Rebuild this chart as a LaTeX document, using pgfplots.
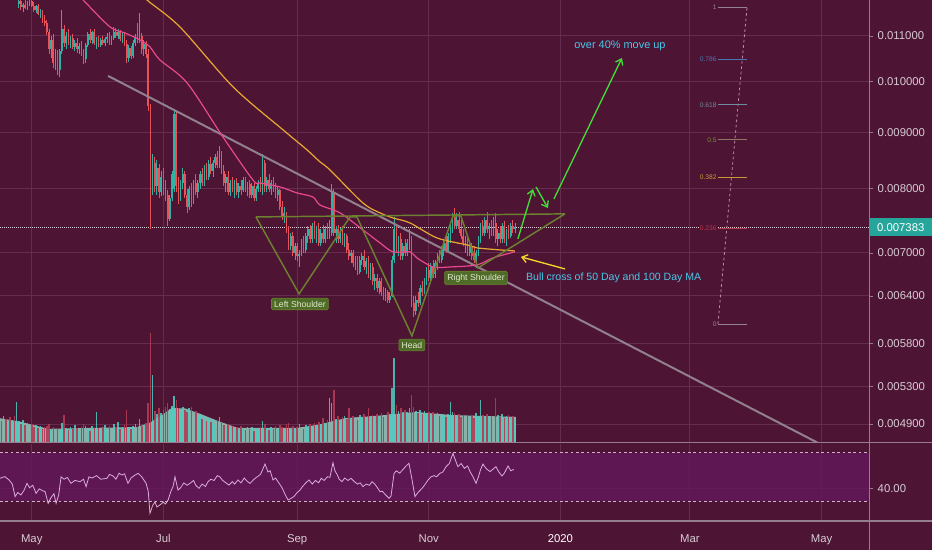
\documentclass[border=0pt]{standalone}
\usepackage{pgfplots}
\pgfplotsset{compat=1.18}
\usepackage{pgfplotstable}
\usepackage{fontspec}
\setmainfont{Liberation Sans}
\setsansfont{Liberation Sans}
\usetikzlibrary{arrows.meta}

\definecolor{bg}{RGB}{78,20,52}
\definecolor{gridc}{RGB}{100,44,78}
\definecolor{sepc}{RGB}{150,125,142}
\definecolor{txt}{RGB}{214,204,212}
\definecolor{upc}{RGB}{46,178,163}
\definecolor{dnc}{RGB}{232,82,88}
\definecolor{vup}{RGB}{78,205,192}
\definecolor{vdn}{RGB}{178,60,85}
\definecolor{vma}{RGB}{138,176,170}
\definecolor{ma50}{RGB}{232,72,142}
\definecolor{ma100}{RGB}{232,168,48}
\definecolor{trend}{RGB}{145,128,142}
\definecolor{hs}{RGB}{108,128,48}
\definecolor{hsbox}{RGB}{78,108,40}
\definecolor{hstxt}{RGB}{226,234,206}
\definecolor{arrg}{RGB}{64,222,52}
\definecolor{arry}{RGB}{246,214,40}
\definecolor{note}{RGB}{72,200,232}
\definecolor{pricebox}{RGB}{38,166,154}
\definecolor{band}{RGB}{100,24,92}
\definecolor{rsic}{RGB}{218,172,218}
\definecolor{dashc}{RGB}{205,180,200}
\definecolor{fgrey}{RGB}{150,130,145}
\definecolor{fblue}{RGB}{70,120,175}
\definecolor{fslate}{RGB}{110,140,160}
\definecolor{fgreen}{RGB}{110,150,60}
\definecolor{fbrown}{RGB}{140,120,100}
\definecolor{forange}{RGB}{200,155,50}
\definecolor{fred}{RGB}{185,55,75}
\definecolor{fdash}{RGB}{185,140,165}

\def\tfont{\fontsize{8.5}{10}\selectfont}

% daily candles: day (0 = 1 May 2019), open, high, low, close (price x 1e6), volume
\pgfplotstableread{
d o h l c v
-14 12250 12400 12100 12150 5.0
-13 12150 12350 12050 12300 6.2
-12 12300 12380 12080 12120 5.4
-11 12120 12250 12000 12200 4.8
-10 12200 12300 12020 12050 5.9
-9 12050 12200 11980 12150 5.1
-8 12150 12250 11950 12000 6.0
-7 12000 12100 11930 12060 9.3
-6 11760 11900 11650 11820 5.0
-5 11820 11880 11620 11680 4.4
-4 11680 11790 11560 11740 5.2
-3 11740 11850 11640 11660 4.1
-2 11660 11830 11600 11790 4.6
-1 11790 11880 11700 11840 3.9
0 11840 11900 11690 11720 4.3
1 11720 11800 11560 11600 3.6
2 11600 11740 11540 11700 4.0
3 11700 11760 11480 11520 3.4
4 11520 11640 11420 11580 3.8
5 11580 11620 11300 11350 3.2
6 11350 11480 11240 11300 3.5
7 11300 11380 11020 11080 3.9
8 11080 11150 10600 10700 4.4
9 10700 11000 10500 10900 3.0
10 10900 11050 10300 10400 3.6
11 10400 10700 10250 10600 2.8
12 10600 10680 10150 10250 3.3
13 10250 10700 10100 10650 3.0
14 10650 11600 10600 11150 4.5
15 11150 11250 10750 10850 6.3
16 10850 11100 10700 11000 3.4
17 11000 11150 10800 10880 2.9
18 10880 11000 10720 10950 3.5
19 10950 11050 10700 10760 3.1
20 10760 10900 10650 10840 4.0
21 10840 10950 10620 10700 3.3
22 10700 10850 10600 10780 2.7
23 10780 10880 10560 10620 3.6
24 10620 10700 10380 10480 4.2
25 10480 10850 10400 10800 3.8
26 10800 11100 10750 11050 3.2
27 11050 11150 10850 10900 2.8
28 10900 11120 10820 11080 3.9
29 11080 11150 10800 10850 3.3
30 10850 10980 10700 10920 7.0
31 10920 11000 10760 10800 3.4
32 10800 10950 10750 10900 2.9
33 10900 11000 10800 10850 3.6
34 10850 10970 10780 10930 4.1
35 10930 11060 10850 10980 3.2
36 10980 11100 10800 10860 3.8
37 10860 11000 10800 10960 3.0
38 10960 11200 10900 11100 4.4
39 11100 11180 10950 11000 3.5
40 11000 11150 10940 11080 4.8
41 11080 11130 10880 10920 3.1
42 10920 11060 10850 11020 3.7
43 11020 11080 10780 10820 4.0
44 10820 10900 10400 10500 7.4
45 10500 10800 10420 10720 3.6
46 10720 10780 10480 10560 3.2
47 10560 10900 10500 10850 3.9
48 10850 11050 10780 10980 4.3
49 10980 11300 10850 10900 3.5
50 10900 11550 10850 11000 5.5
51 11000 11060 10600 10700 3.8
52 10700 10900 10550 10820 4.1
53 10820 10880 10500 10600 4.6
54 10600 10700 9400 9500 9.0
55 9500 9550 7350 8000 24.8
56 8000 8600 7900 8450 15.3
57 8450 8550 7950 8050 7.2
58 8050 8500 7900 8350 6.5
59 8350 8420 7850 7950 8.0
60 7950 8300 7880 8200 6.8
61 8200 8350 7900 8000 7.5
62 8000 8150 7800 7900 8.2
63 7900 7980 7400 7520 9.0
64 7520 7900 7480 7850 7.6
65 7850 8300 7800 8250 8.4
66 8000 9450 7950 9350 10.5
67 9350 9400 7950 8050 9.6
68 8050 8200 7750 7850 7.8
69 7850 8150 7800 8100 7.0
70 8100 8350 8000 8250 8.2
71 8250 8300 7850 7900 7.4
72 7900 8000 7600 7700 6.9
73 7700 8050 7650 8000 7.8
74 8000 8100 7700 7800 8.1
75 7800 8150 7750 8100 6.6
76 8100 8250 7900 7950 7.2
77 7950 8150 7850 8100 6.0
78 8100 8300 8000 8250 6.5
79 8250 8350 8050 8100 5.4
80 8100 8400 8050 8350 6.2
81 8350 8450 8150 8200 5.0
82 8200 8500 8150 8420 5.7
83 8420 8550 8250 8300 4.8
84 8300 8500 8200 8450 5.4
85 8450 8600 8350 8550 4.4
86 8550 8650 8350 8400 5.0
87 8400 8750 8350 8600 5.8
88 8600 8650 8250 8300 4.6
89 8300 8400 8050 8100 4.0
90 8100 8250 7950 8200 3.6
91 8200 8300 7900 7950 4.2
92 7950 8150 7880 8100 3.4
93 8100 8200 7950 8000 3.9
94 8000 8150 7850 8100 3.1
95 8100 8180 7900 7950 3.6
96 7950 8100 7850 8050 3.0
97 8050 8150 7900 7980 3.8
98 7980 8200 7950 8150 3.3
99 8150 8200 7950 8000 2.9
100 8000 8120 7880 8080 3.5
101 8080 8150 7850 7900 3.2
102 7900 8100 7850 8050 3.7
103 8050 8100 7800 7850 2.8
104 7850 8050 7800 8000 3.4
105 8000 8150 7950 8100 3.0
106 8100 8200 7950 8000 3.6
107 7950 8600 7900 8450 5.0
108 8450 8500 7950 8050 4.2
109 8050 8200 7950 8150 3.3
110 8150 8250 7950 8000 2.9
111 8000 8150 7900 8100 3.5
112 8100 8200 7950 8000 3.1
113 8000 8100 7850 7900 3.8
114 7900 8050 7800 7980 3.2
115 7980 8000 7650 7700 4.0
116 7700 7800 7500 7550 3.6
117 7550 7700 7450 7600 3.0
118 7600 7620 7300 7350 4.2
119 7350 7400 7050 7100 4.6
120 7100 7300 7050 7250 3.4
121 7250 7320 6950 7000 3.9
122 7000 7150 6900 7100 3.3
123 7100 7150 6880 6950 3.6
124 6950 7050 6800 6980 4.2
125 6980 7200 6950 7150 3.7
126 7150 7250 7000 7050 3.2
127 7050 7300 7000 7250 4.0
128 7250 7400 7150 7350 3.6
129 7350 7420 7150 7200 4.4
130 7200 7450 7150 7400 3.9
131 7400 7480 7200 7250 4.5
132 7250 7400 7150 7350 4.0
133 7350 7450 7100 7150 4.8
134 7150 7350 7100 7300 4.2
135 7300 7420 7150 7200 5.6
136 7200 7400 7150 7350 4.6
137 7350 7450 7200 7250 5.2
138 7250 7500 7200 7450 10.2
139 7300 8080 7250 7950 9.0
140 7950 8000 7250 7300 12.0
141 7300 7400 7150 7350 5.4
142 7350 7420 7150 7200 6.0
143 7200 7380 7150 7320 5.1
144 7320 7400 7120 7150 5.8
145 7150 7300 7080 7250 6.2
146 7250 7280 7000 7050 5.5
147 7050 7150 6900 6950 7.9
148 6950 7050 6850 7000 5.7
149 7000 7050 6800 6850 6.0
150 6850 6950 6750 6900 5.9
151 6900 6950 6680 6720 5.2
152 6720 6950 6700 6900 6.4
153 6900 7000 6820 6950 5.8
154 6950 7040 6750 6800 6.6
155 6800 6920 6700 6880 5.5
156 6880 6950 6650 6700 7.9
157 6700 6850 6620 6800 6.0
158 6800 6850 6550 6600 6.3
159 6600 6700 6480 6650 5.6
160 6650 6700 6450 6500 6.5
161 6500 6650 6420 6600 6.1
162 6600 6650 6400 6450 6.8
163 6450 6520 6350 6400 5.9
164 6400 6500 6330 6450 6.4
165 6450 6480 6300 6350 7.0
166 6350 6450 6310 6400 6.6
167 6400 6950 6380 6900 12.4
168 6900 7550 6850 7350 19.2
169 7350 7400 7000 7100 8.5
170 7100 7250 6950 7200 7.2
171 7200 7300 6900 6950 7.8
172 6950 7150 6900 7100 6.9
173 7100 7200 6950 7000 7.5
174 7000 7200 6950 7150 7.0
175 7150 7350 7050 7200 7.8
176 7200 7250 6250 6300 10.8
177 6300 6400 6130 6200 8.2
178 6200 6400 6150 6350 7.3
179 6350 6450 6250 6300 6.8
180 6300 6550 6280 6500 7.5
181 6500 6600 6400 6450 6.6
182 6450 6650 6420 6600 7.2
183 6600 6800 6550 6750 6.5
184 6750 6850 6600 6650 7.0
185 6650 6850 6600 6800 6.4
186 6800 6900 6650 6700 6.9
187 6700 6900 6650 6850 6.2
188 6850 7000 6750 6950 6.7
189 6950 7050 6850 6900 6.0
190 6900 7100 6850 7050 6.6
191 7050 7200 6950 7150 6.2
192 7150 7250 7000 7050 5.8
193 7050 7300 7000 7250 6.5
194 7250 7450 7150 7400 9.3
195 7400 7600 7300 7550 7.0
196 7550 7680 7350 7400 6.8
197 7400 7600 7350 7500 6.2
198 7500 7620 7300 7350 6.6
199 7350 7500 7200 7250 5.9
200 7250 7350 7100 7150 6.3
201 7150 7250 7000 7200 5.7
202 7200 7250 6950 7000 6.4
203 7000 7150 6950 7100 5.8
204 7100 7150 6900 6950 6.2
205 6950 7100 6850 6900 5.6
206 6900 7050 6780 7000 6.8
207 7000 7250 6950 7200 6.1
208 7200 7450 7150 7400 9.7
209 7400 7500 7250 7300 6.4
210 7300 7550 7250 7500 6.0
211 7500 7620 7300 7350 6.6
212 7350 7450 7200 7400 5.8
213 7400 7500 7250 7300 6.2
214 7300 7550 7250 7450 5.6
215 7450 7600 7150 7200 10.2
216 7200 7350 7100 7300 6.3
217 7300 7400 7150 7200 5.9
218 7200 7450 7150 7400 6.5
219 7400 7480 7150 7200 5.7
220 7200 7350 7100 7300 6.0
221 7300 7420 7200 7250 6.4
222 7250 7450 7220 7400 5.8
223 7400 7500 7300 7350 6.1
224 7350 7450 7300 7383 5.5
}\candles

\pgfplotstableread{
d r
-14.7 48.8
-12.5 50.2
-10.5 47.4
-9 44
-7.7 33.6
-6.5 37
-5.0 35
-3.5 39
-2.2 44.6
-1 41
0.5 43
2.0 36.3
3.5 40
5 38.5
6.2 37.7
7.6 28
9 33
10.3 36
11.3 28
12.5 35
13.6 50
15 48
16.5 49.5
18.2 44.6
20 47
22.4 46
24 48
25.2 41.9
26.5 50
28 49
30 51
32 48
34.9 48.8
36 52
37.7 50.7
39 48
40.5 53
41.8 51.5
43 52.5
44.6 44.6
46 49
47.5 51
49.3 52.9
51 50
53.0 44.6
54 38
54.8 19.8
56 26
57.1 29.4
58 25
59.4 26.7
61 29
62 27.5
63.2 30.8
64.5 38
65.5 42
66.4 50
67.8 39
69 41
70.5 45
72 43
73.3 44.6
75 47
76 43
77.5 40.5
79 44
80.5 42
81.7 46
83 48
84.5 47
86 51
87.2 50
88.5 47
90 45
91.4 43.2
93 46
94 44
95.6 47.4
97 45
98.5 49
100 46
101.2 44.6
103 48
104.5 50
106 52
107 56
108.1 60.6
109.5 54
110.5 55
111.8 47.4
113 49
114.5 45
116 41
117.5 35
118.8 30.8
120 32
121.5 33.6
123 37
124.3 39
125.5 42
127 45
128.5 47.4
130 44
131.5 47
133 45
134.1 48.8
135.5 47
137 50
138.2 49.6
139.6 61.7
140.5 55
141.5 52
142.5 48
143.8 46
145 49
146.5 47
148.0 48.8
149.5 46
151 44
152.2 45
153.5 41.9
155 44
156.5 43
157.7 46
159 44
160.2 41
161.4 37.7
162.5 38
164 35
165.6 32.2
166.5 34
167.9 52.9
169 55
170.5 53
172.5 57
173.5 59
174.8 61.2
176 50
177.6 33.6
179 37
180.9 40.5
182 43
183.5 47
185.0 50
186.5 51
187.5 50
189.2 52.9
190.5 54
192.0 58.4
193.5 61
194.5 66
195.2 69.4
196.3 64
197.5 58.4
199 61
200.5 57
202 59
203.1 54.3
204.5 50
205.9 44.6
207 50
208 56
209.1 60.6
210.5 57
212.4 54.3
213.5 56
215.1 58.4
216.5 54
217.9 50.7
219 53
220.7 59
222 55
223.5 56.2
}\rsi

\pgfplotsset{
  candle/.style 2 args={draw=none, mark=none, forget plot,
    error bars/.cd, y dir=plus, y explicit, error mark=none,
    error bar style={draw=#1, line width=#2}},
}

\begin{document}
\begin{tikzpicture}
\useasboundingbox (0,0) rectangle (699pt,412.5pt);
\fill[bg] (0,0) rectangle (699pt,412.5pt);

% price panel
\begin{axis}[
  at={(0pt,80.25pt)}, anchor=south west,
  scale only axis, width=651.75pt, height=332.25pt,
  xmin=-14.7, xmax=388,
  ymode=log, ymin=4711, ymax=11857,
  axis line style={draw=none},
  xtick={0,61,123,184,245,305,366}, xticklabels={},
  xtick style={draw=none},
  ytick={4900,5300,5800,6400,7000,8000,9000,10000,11000},
  yticklabels={0.004900,0.005300,0.005800,0.006400,0.007000,0.008000,0.009000,0.010000,0.011000},
  ytick pos=right, yticklabel pos=right,
  yminorticks=false,
  ytick style={sepc, line width=0.6pt}, major tick length=3pt, tick align=outside,
  yticklabel style={font=\tfont, text=txt},
  grid=major, grid style={gridc, line width=0.7pt},
]
% last price line
\draw[txt, densely dotted, line width=0.5pt] (axis cs:-14.7,7383) -- (axis cs:388,7383);
\coordinate (cur) at (axis cs:388,7383);

% candles: wicks and bodies
\addplot[candle={upc}{0.7pt}]
  table[x=d, y expr={\thisrow{c}>=\thisrow{o} ? \thisrow{l} : nan}, y error plus expr={\thisrow{h}-\thisrow{l}}] {\candles};
\addplot[candle={dnc}{0.7pt}]
  table[x=d, y expr={\thisrow{c}<\thisrow{o} ? \thisrow{l} : nan}, y error plus expr={\thisrow{h}-\thisrow{l}}] {\candles};
\addplot[candle={upc}{1.25pt}]
  table[x=d, y expr={\thisrow{c}>=\thisrow{o} ? \thisrow{o} : nan}, y error plus expr={abs(\thisrow{c}-\thisrow{o})}] {\candles};
\addplot[candle={dnc}{1.25pt}]
  table[x=d, y expr={\thisrow{c}<\thisrow{o} ? \thisrow{c} : nan}, y error plus expr={abs(\thisrow{c}-\thisrow{o})}] {\candles};

% descending trend line
\addplot[trend, line width=1.5pt] coordinates {(35.4,10121) (364.4,4711)};

% 50 day MA
\addplot[ma50, line width=0.9pt, smooth] coordinates {
(20.1,12060) (23.8,11857) (36.3,11208) (43.2,11069) (50.2,10909) (54.8,10751) (59.4,10464)
(72.0,9975) (88.6,8913) (102.5,8149) (105.8,8099) (115.1,8031) (122.9,7932) (130.3,7866)
(133.6,7736) (142.9,7609) (153.5,7343) (161.4,7148) (167.4,7015) (175.3,7015) (178.5,6927)
(186.0,6798) (193.8,6798) (206.3,6827) (213.7,6927) (223.9,7015)};

% 100 day MA
\addplot[ma100, line width=0.9pt, smooth] coordinates {
(50.2,12106) (53.4,11857) (68.7,11208) (93.3,9892) (116.5,9044) (127.6,8675) (133.6,8461)
(138.2,8321) (153.5,7768) (161.4,7609) (167.4,7530) (175.3,7451) (187.8,7222) (201.7,7118)
(206.3,7074) (217.0,7044) (223.9,7029)};

% inverse head and shoulders
\addplot[hs, line width=1.1pt] coordinates {(103.9,7545) (247.1,7593)};
\addplot[hs, line width=1.1pt] coordinates {
(103.9,7545) (123.9,6427) (147.5,7545) (150.7,7545) (176.2,5888) (195.2,7561)
(198.9,7561) (206.8,6784) (247.1,7593)};

\node[fill=hsbox, draw=hs, rounded corners=1pt, text=hstxt, inner xsep=2pt, inner ysep=2pt,
  font=\fontsize{6.5}{7}\selectfont] at (axis cs:124.3,6294) {Left Shoulder};
\node[fill=hsbox, draw=hs, rounded corners=1pt, text=hstxt, inner xsep=2pt, inner ysep=2pt,
  font=\fontsize{6.5}{7}\selectfont] at (axis cs:176.2,5778) {Head};
\node[fill=hsbox, draw=hs, rounded corners=1pt, text=hstxt, inner xsep=2pt, inner ysep=2pt,
  font=\fontsize{6.5}{7}\selectfont] at (axis cs:205.9,6644) {Right Shoulder};

% projected move
\draw[arrg, line width=1pt, -{Straight Barb[length=4pt,width=6pt]}] (axis cs:225.3,7207) -- (axis cs:232.3,7997);
\draw[arrg, line width=1pt, -{Straight Barb[length=4pt,width=6pt]}] (axis cs:233.7,8031) -- (axis cs:239.2,7687);
\draw[arrg, line width=1pt, -{Straight Barb[length=4pt,width=6pt]}] (axis cs:242.0,7833) -- (axis cs:273.5,10507);
\node[note, font=\fontsize{8.2}{9}\selectfont] at (axis cs:272.6,10773) {over 40\% move up};

\draw[arry, line width=1pt, {Straight Barb[length=4pt,width=6pt]}-] (axis cs:226.7,6942) -- (axis cs:247.1,6770);
\node[note, anchor=west, inner sep=0pt, font=\fontsize{7.9}{9}\selectfont] at (axis cs:229.0,6644) {Bull cross of 50 Day and 100 Day MA};

% fibonacci retracement
\draw[fdash, dash pattern=on 2pt off 2pt, line width=0.6pt] (axis cs:318.0,6037) -- (axis cs:331.5,11685);
\draw[fgrey, line width=0.6pt] (axis cs:318.0,11685) -- (axis cs:331.5,11685);
\draw[fblue, line width=0.8pt] (axis cs:318.0,10476) -- (axis cs:331.5,10476);
\draw[fslate, line width=0.8pt] (axis cs:318.0,9527) -- (axis cs:331.5,9527);
\draw[fbrown, line width=0.8pt] (axis cs:318.0,8861) -- (axis cs:331.5,8861);
\draw[forange, line width=0.8pt] (axis cs:318.0,8195) -- (axis cs:331.5,8195);
\draw[fred, line width=0.8pt] (axis cs:318.0,7370) -- (axis cs:331.5,7370);
\draw[fgrey, line width=0.6pt] (axis cs:318.0,6037) -- (axis cs:331.5,6037);
\begin{scope}[every node/.style={anchor=east, inner sep=0.8pt, font=\fontsize{5}{6}\selectfont}]
\node[text=fgrey] at (axis cs:318.0,11685) {1};
\node[text=fblue] at (axis cs:318.0,10476) {0.786};
\node[text=fslate] at (axis cs:318.0,9527) {0.618};
\node[text=fgreen] at (axis cs:318.0,8861) {0.5};
\node[text=forange] at (axis cs:318.0,8195) {0.382};
\node[text=fred, fill=bg] at (axis cs:318.0,7370) {0.236};
\node[text=fgrey] at (axis cs:318.0,6037) {0};
\end{scope}
\end{axis}

% volume overlay
\begin{axis}[
  at={(0pt,80.25pt)}, anchor=south west,
  scale only axis, width=651.75pt, height=332.25pt,
  xmin=-14.7, xmax=388, ymin=0, ymax=100,
  axis lines=none,
]
\addplot[fill=vma, draw=none] coordinates {
(-14.7,5.6) (-5.4,4.8) (7.6,3.2) (27,3.4) (48.8,3.6) (54.8,4.6) (59.4,6.0) (65,7.9) (71,7.8)
(78,6.6) (87.2,4.8) (95.6,3.4) (123,3.4) (133.6,4.2) (145.2,5.6) (161.4,6.2) (178.1,7.0)
(194.8,6.3) (224.3,5.9)} \closedcycle;
\addplot[ycomb, mark=none, vup, line width=1.2pt, opacity=0.85]
  table[x=d, y expr={\thisrow{c}>=\thisrow{o} ? \thisrow{v} : nan}] {\candles};
\addplot[ycomb, mark=none, vdn, line width=1.2pt, opacity=0.9]
  table[x=d, y expr={\thisrow{c}<\thisrow{o} ? \thisrow{v} : nan}] {\candles};
\end{axis}

% RSI panel
\begin{axis}[
  at={(0pt,21.75pt)}, anchor=south west,
  scale only axis, width=651.75pt, height=57.75pt,
  xmin=-14.7, xmax=388, ymin=13.4, ymax=77.2,
  axis line style={draw=none},
  xtick={0,61,123,184,245,305,366},
  xticklabels={May,Jul,Sep,Nov,\textcolor{white}{2020},Mar,May},
  xtick style={draw=none},
  xticklabel style={font=\tfont, text=txt, text height=1.5ex, text depth=0.3ex, yshift=-2pt},
  ytick={40}, yticklabels={40.00},
  ytick pos=right, yticklabel pos=right,
  ytick style={sepc, line width=0.6pt}, major tick length=3pt, tick align=outside,
  yticklabel style={font=\tfont, text=txt},
  grid=major, grid style={gridc, line width=0.7pt},
]
\fill[band, fill opacity=0.8] (axis cs:-14.7,30) rectangle (axis cs:388,70);
\draw[dashc, dash pattern=on 2pt off 2pt, line width=0.6pt] (axis cs:-14.7,70) -- (axis cs:388,70);
\draw[dashc, dash pattern=on 2pt off 2pt, line width=0.6pt] (axis cs:-14.7,30) -- (axis cs:388,30);
\addplot[rsic, line width=0.6pt] table[x=d, y=r] {\rsi};
\end{axis}

% panel separators and price scale border
\draw[sepc, line width=0.75pt] (0,80.25pt) -- (699pt,80.25pt);
\draw[sepc, line width=0.75pt] (0,21.75pt) -- (699pt,21.75pt);
\draw[sepc, line width=0.75pt] (651.75pt,0) -- (651.75pt,412.5pt);

\node[fill=pricebox, text=white, font=\tfont, anchor=west, inner sep=0pt,
  minimum width=47.25pt, minimum height=13.5pt] at (cur) {0.007383};
\end{tikzpicture}
\end{document}
